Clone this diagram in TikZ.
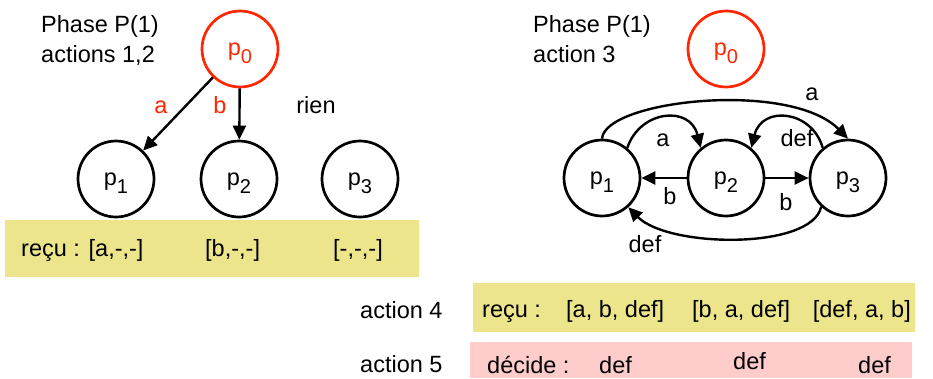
\documentclass[tikz,border=0pt]{standalone}
\usepackage{fontspec}
\setmainfont{Liberation Sans}
\usetikzlibrary{arrows.meta}
\definecolor{kred}{RGB}{255,38,0}
\definecolor{kyellow}{RGB}{236,229,140}
\definecolor{kpink}{RGB}{255,204,204}
\newcommand{\pn}[1]{p\raisebox{-8pt}{\fontsize{20}{20}\selectfont #1}}
\tikzset{
  txt/.style={font=\fontsize{23.5}{28}\selectfont, inner sep=0pt},
  proc/.style={circle, draw, line width=2.7pt, minimum size=76pt, inner sep=0pt,
    font=\fontsize{23.5}{28}\selectfont, text height=16pt, text depth=4pt},
  msg/.style={line width=2.4pt, -{Triangle[length=14pt,width=13pt]}},
}
\begin{document}
\begin{tikzpicture}[x=1pt,y=-1pt]
\useasboundingbox (0,0) rectangle (933,378);
% backgrounds
\fill[kyellow] (5,220) rectangle (419,277);
\fill[kyellow] (473,283) rectangle (915,332);
\fill[kpink] (470,342) rectangle (912,378);

% left panel
\node[txt, anchor=base west] (t1) at (41,32) {Phase P(1)};
\node[txt, anchor=base west] (t2) at (41,62) {actions 1,2};
\node[proc, draw=kred, text=kred] (p0) at (240,49) {\pn{0}};
\node[proc] (p1) at (116,179) {\pn{1}};
\node[proc] (p2) at (239,179) {\pn{2}};
\node[proc] (p3) at (360,179) {\pn{3}};
\draw[msg] (p0) -- (p1);
\draw[msg] (p0) -- (p2);
\node[txt, text=kred, anchor=base] (la) at (161,113) {a};
\node[txt, text=kred, anchor=base] (lb) at (220,113) {b};
\node[txt, anchor=base] (lr) at (316,113) {rien};
\node[txt, anchor=base west] (r1) at (21,256) {reçu : [a,-,-]};
\node[txt, anchor=base west] (r2) at (205,256) {[b,-,-]};
\node[txt, anchor=base west] (r3) at (333,256) {[-,-,-]};

% right panel
\node[txt, anchor=base west] (t3) at (533,32) {Phase P(1)};
\node[txt, anchor=base west] (t4) at (533,62) {action 3};
\node[proc, draw=kred, text=kred] (q0) at (726,49) {\pn{0}};
\node[proc] (q1) at (602,178) {\pn{1}};
\node[proc] (q2) at (726,178) {\pn{2}};
\node[proc] (q3) at (848,178) {\pn{3}};
\draw[msg] (q1.north) .. controls (605,100) and (790,80) .. (q3.north);
\draw[msg] (q1.50) .. controls (640,110) and (690,105) .. (q2.130);
\draw[msg] (q3.130) .. controls (812,110) and (762,105) .. (q2.50);
\draw[msg] (q2) -- (q1);
\draw[msg] (q2) -- (q3);
\draw[msg] (q3.-133) .. controls (812,250) and (668,248) .. (q1.-48);
\node[txt, anchor=base] (ma) at (812,100) {a};
\node[txt, anchor=base] (mb) at (663,146) {a};
\node[txt, anchor=base] (mc) at (797,146) {def};
\node[txt, anchor=base] (md) at (670,204) {b};
\node[txt, anchor=base] (me) at (786,210) {b};
\node[txt, anchor=base] (mf) at (645,252) {def};

% bottom rows
\node[txt, anchor=base west] (a4) at (360,318) {action 4};
\node[txt, anchor=base west] (a5) at (360,372) {action 5};
\node[txt, anchor=base west] (s0) at (482,317) {reçu :};
\node[txt, anchor=base west] (s1) at (566,317) {[a, b, def]};
\node[txt, anchor=base west] (s2) at (692,317) {[b, a, def]};
\node[txt, anchor=base east] (s3) at (911,317) {[def, a, b]};
\node[txt, anchor=base west] (d0) at (487,373) {décide :};
\node[txt, anchor=base west] (d1) at (599,373) {def};
\node[txt, anchor=base west] (d2) at (733,369) {def};
\node[txt, anchor=base west] (d3) at (858,373) {def};
\end{tikzpicture}
\end{document}
